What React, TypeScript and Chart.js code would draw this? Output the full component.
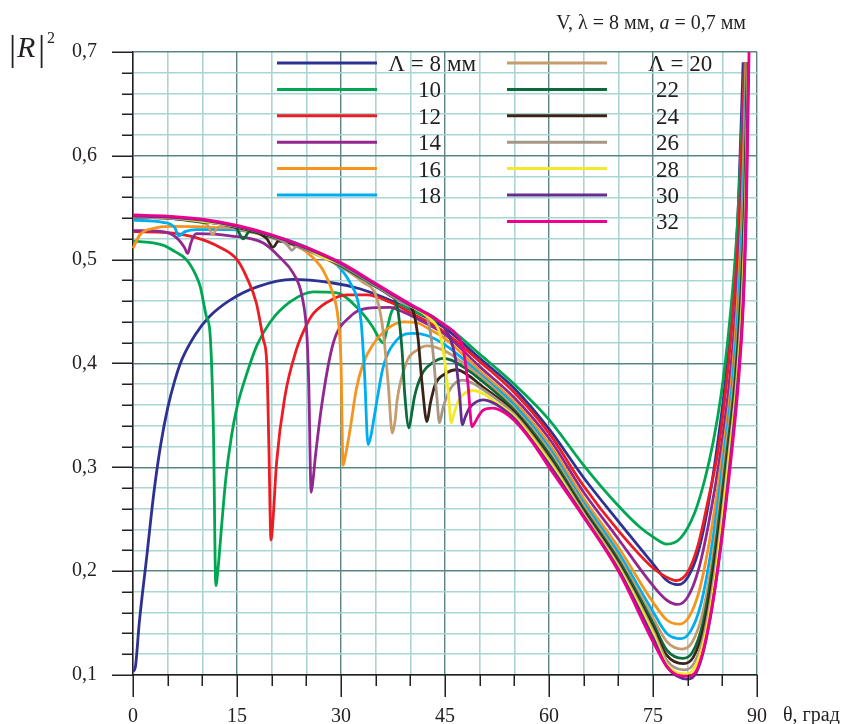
import React, { useEffect, useRef } from 'react';
import { Chart, registerables } from 'chart.js';
Chart.register(...registerables);

type P = [number, number];

const LAMBDAS = [8, 10, 12, 14, 16, 18, 20, 22, 24, 26, 28, 30, 32];
const COLORS = ['#2e3192', '#00a651', '#ed1c24', '#92278f', '#f7941d', '#00aeef', '#c69c6d', '#0c6b3b', '#3b2416', '#a69686', '#f3e82a', '#662d91', '#ec008c'];

const L8: P[] = [[0,0.103],[0.35,0.108],[0.9,0.15],[2,0.215],[3,0.275],[4,0.322],[5,0.357],[6,0.383],[7,0.403],[9,0.428],[11,0.445],[14,0.461],[18,0.474],[23,0.481],[28.4,0.478],[32.7,0.472],[36,0.464],[40,0.452],[45,0.434],[50,0.405],[55,0.376],[60,0.337],[65,0.29],[70,0.248],[75,0.207],[77,0.191],[78.6,0.187],[80,0.194],[81.5,0.218],[83,0.265],[84.2,0.317],[85.4,0.38],[86.5,0.46],[87.3,0.55],[88,0.69]];
const L10: P[] = [[0,0.518],[4.3,0.514],[6,0.508],[7.7,0.5],[9,0.486],[9.7,0.474],[10.6,0.445],[11.1,0.43],[11.6,0.336],[11.95,0.186],[12.3,0.205],[12.8,0.245],[13.4,0.29],[14.2,0.33],[15,0.358],[16.4,0.39],[17.9,0.418],[19.8,0.44],[22.6,0.459],[26,0.469],[29.4,0.468],[32.3,0.454],[34.6,0.435],[35.6,0.423],[36.1,0.42],[36.6,0.432],[37.3,0.45],[38.5,0.456],[41,0.449],[45,0.437],[50,0.409],[55,0.38],[60,0.346],[65,0.302],[70,0.263],[73,0.243],[75,0.233],[77,0.226],[79,0.232],[81,0.256],[82.5,0.289],[83.7,0.325],[84.8,0.369],[85.9,0.43],[87.1,0.526],[88.2,0.685]];
const L12: P[] = [[0,0.527],[5,0.526],[9.2,0.521],[12.5,0.512],[15,0.5],[16.4,0.483],[17.8,0.458],[18.8,0.423],[19.3,0.4],[19.6,0.32],[19.9,0.23],[20.2,0.25],[20.7,0.304],[21.9,0.368],[23.6,0.414],[24.8,0.434],[26,0.448],[28.8,0.462],[31,0.466],[33.7,0.466],[37.1,0.459],[40,0.449],[45,0.43],[50,0.402],[55,0.372],[60,0.333],[65,0.282],[70,0.239],[75,0.203],[77,0.194],[78.3,0.191],[80,0.199],[81.5,0.225],[83,0.27],[84.4,0.317],[85.5,0.375],[86.6,0.455],[87.5,0.55],[88.2,0.69]];
const L14: P[] = [[0,0.528],[4.3,0.527],[6.3,0.521],[7.4,0.512],[7.9,0.506],[8.3,0.515],[8.7,0.522],[9.2,0.525],[14,0.523],[18.8,0.516],[21.2,0.502],[23.1,0.487],[24.4,0.464],[25.1,0.425],[25.35,0.38],[25.7,0.276],[26,0.29],[26.3,0.31],[27.4,0.368],[28.9,0.42],[31.3,0.445],[33.7,0.453],[37.1,0.454],[38.5,0.451],[41,0.443],[45,0.428],[50,0.397],[55,0.367],[60,0.328],[65,0.276],[70,0.231],[75,0.186],[77,0.172],[78.6,0.168],[80,0.175],[81.5,0.2],[83,0.245],[84.8,0.317],[85.9,0.375],[86.9,0.45],[87.7,0.55],[88.3,0.69]];
const L16: P[] = [[0,0.511],[1,0.524],[2.9,0.53],[5.3,0.532],[11.5,0.531],[18.8,0.524],[22.2,0.517],[25.1,0.507],[27.4,0.49],[28.8,0.468],[29.6,0.442],[30,0.4],[30.3,0.302],[30.6,0.31],[31.3,0.336],[32.2,0.375],[33.2,0.4],[34.6,0.418],[36.6,0.433],[39,0.44],[41,0.439],[43,0.432],[45,0.424],[50,0.393],[55,0.363],[60,0.323],[65,0.27],[70,0.223],[75,0.17],[77,0.153],[78.8,0.149],[80.2,0.156],[81.7,0.182],[83.3,0.235],[85.1,0.317],[86.2,0.375],[87.1,0.45],[87.9,0.56],[88.4,0.69]];
const L18: P[] = [[0,0.538],[4.3,0.536],[6,0.531],[6.6,0.523],[7.5,0.527],[9.2,0.529],[14,0.529],[21.2,0.521],[26,0.509],[29.4,0.495],[31.3,0.478],[32.4,0.461],[32.9,0.44],[33.4,0.39],[33.9,0.322],[34.3,0.33],[34.7,0.345],[35.2,0.365],[36.1,0.397],[38.1,0.423],[40.4,0.429],[42.4,0.427],[45,0.418],[47.5,0.405],[50,0.39],[55,0.36],[60,0.319],[65,0.266],[70,0.218],[75,0.161],[77,0.14],[79,0.135],[80.4,0.142],[81.9,0.168],[83.5,0.225],[85.3,0.317],[86.4,0.378],[87.3,0.455],[88,0.56],[88.5,0.69]];
const L20: P[] = [[0,0.541],[5,0.54],[9,0.537],[10.8,0.533],[11.5,0.524],[12.2,0.531],[15,0.53],[20,0.521],[25,0.509],[30,0.493],[33,0.479],[35.2,0.462],[36.1,0.43],[36.8,0.381],[37.4,0.333],[37.8,0.345],[38.1,0.365],[39.5,0.402],[41,0.413],[42.4,0.417],[45,0.412],[47.5,0.401],[50,0.388],[55,0.357],[60,0.316],[65,0.263],[70,0.214],[75,0.155],[77,0.132],[79.2,0.125],[80.6,0.131],[82.1,0.158],[83.7,0.218],[85.5,0.317],[86.6,0.38],[87.5,0.46],[88.1,0.56],[88.55,0.69]];
const L22: P[] = [[0,0.541],[5,0.54],[10,0.536],[14.8,0.531],[15.9,0.52],[16.8,0.527],[20,0.522],[25,0.51],[30,0.494],[35,0.474],[37,0.466],[38.1,0.455],[38.8,0.413],[39.2,0.37],[39.8,0.338],[40.2,0.352],[40.6,0.368],[41.7,0.39],[43.3,0.401],[44.7,0.405],[46,0.403],[48,0.395],[50,0.385],[55,0.355],[60,0.313],[65,0.26],[70,0.211],[75,0.15],[77,0.124],[79.3,0.116],[80.7,0.122],[82.2,0.15],[83.8,0.213],[85.7,0.317],[86.8,0.382],[87.6,0.46],[88.2,0.56],[88.6,0.69]];
const L24: P[] = [[0,0.541],[5,0.54],[10,0.537],[15,0.531],[19.2,0.521],[20.2,0.512],[21,0.518],[25,0.511],[30,0.495],[35,0.475],[38,0.462],[40.3,0.452],[41.1,0.425],[41.7,0.38],[42.4,0.344],[42.9,0.362],[43.6,0.38],[45,0.39],[46.7,0.394],[48.5,0.388],[50,0.38],[55,0.353],[60,0.31],[65,0.258],[70,0.208],[75,0.146],[77,0.119],[79.4,0.111],[80.8,0.117],[82.3,0.145],[83.9,0.208],[85.9,0.317],[86.9,0.38],[87.7,0.46],[88.3,0.56],[88.65,0.69]];
const L26: P[] = [[0,0.541],[5,0.54],[10,0.537],[15,0.532],[20,0.523],[22.3,0.514],[22.9,0.509],[23.6,0.513],[27,0.504],[30,0.495],[35,0.475],[40,0.455],[42.3,0.446],[43.2,0.415],[43.8,0.37],[44.2,0.343],[44.7,0.357],[45.8,0.376],[47.6,0.384],[49,0.381],[50,0.377],[55,0.351],[60,0.308],[65,0.256],[70,0.206],[75,0.143],[77,0.114],[79.5,0.105],[80.9,0.111],[82.4,0.14],[84,0.203],[86,0.317],[87,0.38],[87.8,0.46],[88.35,0.56],[88.7,0.69]];
const L28: P[] = [[0,0.542],[5,0.541],[10,0.537],[15,0.532],[20,0.523],[25,0.511],[27.5,0.502],[30,0.496],[35,0.476],[40,0.456],[43,0.442],[44.2,0.43],[44.9,0.405],[45.5,0.37],[45.9,0.343],[46.3,0.352],[47,0.365],[48,0.372],[49,0.374],[50.5,0.371],[52,0.364],[55,0.349],[60,0.306],[65,0.254],[70,0.204],[75,0.14],[77,0.11],[79.6,0.101],[81,0.107],[82.5,0.137],[84.1,0.2],[86.1,0.317],[87.1,0.38],[87.9,0.46],[88.4,0.56],[88.72,0.69]];
const L30: P[] = [[0,0.542],[5,0.541],[10,0.538],[15,0.532],[20,0.523],[25,0.511],[30,0.496],[35,0.476],[40,0.456],[44.5,0.438],[45.7,0.425],[46.5,0.405],[47.1,0.37],[47.5,0.341],[47.9,0.348],[48.5,0.357],[49.5,0.363],[50.5,0.365],[52,0.362],[54,0.353],[55,0.347],[60,0.303],[65,0.253],[70,0.202],[75,0.136],[77,0.108],[80,0.096],[81.3,0.103],[82.7,0.135],[84.3,0.2],[86.3,0.317],[87.2,0.38],[88,0.46],[88.45,0.56],[88.75,0.69]];
const L32: P[] = [[0,0.543],[5,0.542],[10,0.539],[15,0.533],[20,0.524],[25,0.512],[30,0.497],[35,0.477],[40,0.457],[45,0.437],[46.6,0.428],[47.6,0.415],[48.3,0.381],[48.9,0.339],[49.3,0.343],[49.8,0.349],[50.5,0.355],[51.9,0.357],[53.5,0.353],[55,0.345],[57.5,0.325],[60,0.3],[65,0.252],[70,0.2],[75,0.132],[77,0.108],[78.5,0.1],[80,0.099],[81.4,0.106],[82.8,0.14],[84.4,0.205],[86.4,0.317],[87.3,0.38],[88.05,0.46],[88.5,0.56],[88.85,0.7]];

const SERIES: P[][] = [L8, L10, L12, L14, L16, L18, L20, L22, L24, L26, L28, L30, L32];

const X_TICK_LABELS = ['0', '15', '30', '45', '60', '75', '90'];
const Y_TICK_LABELS = ['0,1', '0,2', '0,3', '0,4', '0,5', '0,6', '0,7'];

const MAJOR = '#5b8584';
const MINOR = '#a9d6d4';
const INK = '#231f20';
const SERIF = '"Liberation Serif", "Times New Roman", serif';

const deco = {
  id: 'deco',
  afterDraw(chart: any) {
    const ctx = chart.ctx as CanvasRenderingContext2D;
    const xs = chart.scales.x;
    const ys = chart.scales.y;
    const ca = chart.chartArea;
    ctx.save();
    ctx.strokeStyle = INK;
    ctx.lineWidth = 1.5;
    for (let i = 0; i <= 30; i++) {
      const y = Math.round(ys.getPixelForValue(0.1 + i * 0.02)) + 0.25;
      const len = i % 5 === 0 ? 21 : 11;
      ctx.beginPath();
      ctx.moveTo(ca.left - len, y);
      ctx.lineTo(ca.left, y);
      ctx.stroke();
    }
    for (let i = 0; i <= 18; i++) {
      const x = Math.round(xs.getPixelForValue(i * 5)) + 0.25;
      const len = i % 3 === 0 ? 22 : 11;
      ctx.beginPath();
      ctx.moveTo(x, ca.bottom);
      ctx.lineTo(x, ca.bottom + len);
      ctx.stroke();
    }
    // legend
    const rowH = 26.4;
    const top = ca.top + 11;
    ctx.lineWidth = 3;
    ctx.fillStyle = INK;
    ctx.textBaseline = 'alphabetic';
    ctx.font = `23px ${SERIF}`;
    LAMBDAS.forEach((lam, i) => {
      const col = i < 6 ? 0 : 1;
      const row = col === 0 ? i : i - 6;
      const y = top + row * rowH;
      const x0 = col === 0 ? ca.left + 144 : ca.left + 374;
      ctx.strokeStyle = COLORS[i];
      ctx.beginPath();
      ctx.moveTo(x0, y);
      ctx.lineTo(x0 + 100, y);
      ctx.stroke();
      if (col === 0) {
        ctx.textAlign = 'right';
        ctx.fillText(row === 0 ? `Λ = ${lam}` : `${lam}`, ca.left + 308, y + 8);
        if (row === 0) {
          ctx.textAlign = 'left';
          ctx.fillText('мм', ca.left + 314, y + 8);
        }
      } else {
        ctx.textAlign = 'left';
        if (row === 0) ctx.fillText(`Λ = ${lam}`, ca.left + 515, y + 8);
        else ctx.fillText(`${lam}`, ca.left + 523, y + 8);
      }
    });
    // title
    ctx.font = `20px ${SERIF}`;
    ctx.textAlign = 'left';
    const p1 = 'V, λ = 8 мм, ';
    const p3 = ' = 0,7 мм';
    const w1 = ctx.measureText(p1).width;
    const w3 = ctx.measureText(p3).width;
    ctx.font = `italic 20px ${SERIF}`;
    const w2 = ctx.measureText('a').width;
    const tx = 746 - (w1 + w2 + w3);
    ctx.font = `20px ${SERIF}`;
    ctx.fillText(p1, tx, 29);
    ctx.font = `italic 20px ${SERIF}`;
    ctx.fillText('a', tx + w1, 29);
    ctx.font = `20px ${SERIF}`;
    ctx.fillText(p3, tx + w1 + w2, 29);
    // y label |R|^2
    ctx.font = `36px ${SERIF}`;
    ctx.fillText('|', 9, 60);
    ctx.fillText('|', 38, 60);
    ctx.font = `italic 30px ${SERIF}`;
    ctx.fillText('R', 17, 57);
    ctx.font = `16px ${SERIF}`;
    ctx.fillText('2', 47, 43);
    // x label
    ctx.font = `20px ${SERIF}`;
    ctx.fillText('θ, град', 783, 721);
    ctx.restore();
  },
};

export default function App() {
  const ref = useRef<HTMLCanvasElement>(null);
  useEffect(() => {
    const chart = new Chart(ref.current as HTMLCanvasElement, {
      type: 'line',
      data: {
        datasets: SERIES.map((s, i) => ({
          label: `Λ = ${LAMBDAS[i]}`,
          data: s.map(([x, y]) => ({ x, y })),
          borderColor: COLORS[i],
          backgroundColor: COLORS[i],
          borderWidth: 2.8,
          pointRadius: 0,
          cubicInterpolationMode: 'monotone' as const,
          fill: false,
          clip: false as any,
          order: SERIES.length - i,
        })),
      },
      options: {
        animation: false,
        responsive: false,
        devicePixelRatio: 1,
        events: [],
        layout: { padding: { top: 52, right: 100, left: 0, bottom: 0 } },
        plugins: { legend: { display: false }, tooltip: { enabled: false }, title: { display: false } },
        scales: {
          x: {
            type: 'linear',
            min: 0,
            max: 90,
            afterFit: (s: any) => { s.height = 49; },
            border: { color: INK, width: 1.5 },
            grid: {
              drawTicks: false,
              color: (c: any) => (Math.round(c.tick.value) % 15 === 0 ? MAJOR : MINOR),
              lineWidth: (c: any) => (Math.round(c.tick.value) % 15 === 0 ? 1.4 : 1.6),
            },
            ticks: {
              stepSize: 5,
              autoSkip: false,
              maxRotation: 0,
              padding: 30,
              color: INK,
              font: { family: SERIF, size: 20 },
              callback: (v: any) => {
                const n = Math.round(Number(v));
                return n % 15 === 0 ? X_TICK_LABELS[n / 15] : '';
              },
            },
          },
          y: {
            type: 'linear',
            min: 0.1,
            max: 0.7,
            afterFit: (s: any) => { s.width = 133; },
            border: { color: INK, width: 1.5 },
            grid: {
              drawTicks: false,
              color: (c: any) => (Math.round(c.tick.value * 100) % 10 === 0 ? MAJOR : MINOR),
              lineWidth: (c: any) => (Math.round(c.tick.value * 100) % 10 === 0 ? 1.4 : 1.6),
            },
            ticks: {
              stepSize: 0.02,
              autoSkip: false,
              padding: 36,
              color: INK,
              font: { family: SERIF, size: 20 },
              callback: (v: any) => {
                const k = Math.round(Number(v) * 100);
                return k % 10 === 0 ? Y_TICK_LABELS[k / 10 - 1] : '';
              },
            },
          },
        },
      },
      plugins: [deco],
    });
    return () => chart.destroy();
  }, []);
  return (
    <div style={{ position: 'absolute', left: 0, top: 0, width: 857, height: 724, background: '#fff' }}>
      <canvas ref={ref} width={857} height={724} style={{ display: 'block' }} />
    </div>
  );
}
